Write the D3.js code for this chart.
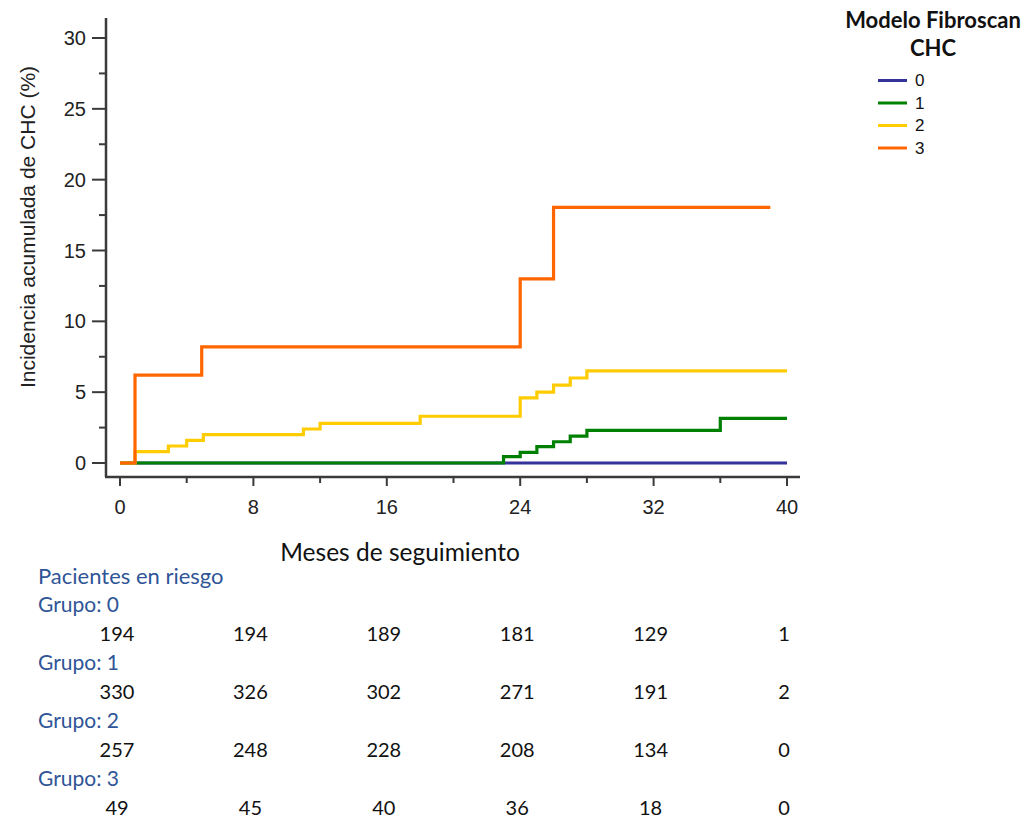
<!DOCTYPE html>
<html><head><meta charset="utf-8">
<script src="https://cdn.jsdelivr.net/npm/d3@7"></script>
<style>body{margin:0;background:#fff}</style>
</head><body>
<svg id="c" width="1031" height="821"></svg>
<script>
const groups = ["0","1","2","3"];
const colors = ["#333399","#008000","#FFCC00","#FF6600"];
const t0 = [0, 40];
const v0 = [0, 0];
const t1 = [0, 23, 24, 25, 26, 27, 28, 36, 40];
const v1 = [0, 0.45, 0.75, 1.15, 1.5, 1.9, 2.3, 3.15, 3.15];
const t2 = [0, 0.9, 2.9, 4, 5, 11, 12, 18, 24, 25, 26, 27, 28, 40];
const v2 = [0, 0.8, 1.2, 1.6, 2.0, 2.4, 2.8, 3.3, 4.6, 5.0, 5.5, 6.0, 6.5, 6.5];
const t3 = [0, 0.9, 4.9, 24, 26, 39];
const v3 = [0, 6.2, 8.2, 13, 18.05, 18.05];
const xTicks = [0, 8, 16, 24, 32, 40];
const yTicks = [0, 5, 10, 15, 20, 25, 30];
const riskTimes = [0, 8, 16, 24, 32, 40];
const risk0 = [194, 194, 189, 181, 129, 1];
const risk1 = [330, 326, 302, 271, 191, 2];
const risk2 = [257, 248, 228, 208, 134, 0];
const risk3 = [49, 45, 40, 36, 18, 0];

const series = [[t0,v0],[t1,v1],[t2,v2],[t3,v3]];
const risks = [risk0, risk1, risk2, risk3];

const svg = d3.select("#c");
const x = d3.scaleLinear().domain([0,40]).range([120,787]);
const y = d3.scaleLinear().domain([0,30]).range([463,38]);
const axisCol = "#3a3a3a";
const arial = "'Liberation Sans', Arial, sans-serif";
const cal = "Lato, 'Open Sans', sans-serif";

// axes lines
svg.append("line").attr("x1",106).attr("x2",106).attr("y1",18).attr("y2",477)
  .attr("stroke",axisCol).attr("stroke-width",2.5);
svg.append("line").attr("x1",105).attr("x2",800).attr("y1",477).attr("y2",477)
  .attr("stroke",axisCol).attr("stroke-width",2.5);

// y ticks
const yMinor = d3.range(2.5, 30, 5);
yTicks.forEach(v=>{
  svg.append("line").attr("x1",92).attr("x2",106).attr("y1",y(v)).attr("y2",y(v))
    .attr("stroke",axisCol).attr("stroke-width",2);
  svg.append("text").attr("x",86).attr("y",y(v)).attr("dy","0.35em")
    .attr("text-anchor","end").attr("font-family",arial).attr("font-size",20)
    .attr("fill","#222").text(v);
});
yMinor.forEach(v=>{
  svg.append("line").attr("x1",99).attr("x2",106).attr("y1",y(v)).attr("y2",y(v))
    .attr("stroke",axisCol).attr("stroke-width",2);
});
// x ticks
const xMinor = d3.range(4, 40, 8);
xTicks.forEach(v=>{
  svg.append("line").attr("x1",x(v)).attr("x2",x(v)).attr("y1",477).attr("y2",486)
    .attr("stroke",axisCol).attr("stroke-width",2);
  svg.append("text").attr("x",x(v)).attr("y",507).attr("dy","0.35em")
    .attr("text-anchor","middle").attr("font-family",arial).attr("font-size",20)
    .attr("fill","#222").text(v);
});
xMinor.forEach(v=>{
  svg.append("line").attr("x1",x(v)).attr("x2",x(v)).attr("y1",477).attr("y2",483)
    .attr("stroke",axisCol).attr("stroke-width",2);
});

// y label
svg.append("text").attr("transform","translate(28,227) rotate(-90)")
  .attr("text-anchor","middle").attr("dy","0.35em").attr("font-family",arial)
  .attr("font-size",21).attr("fill","#222").text("Incidencia acumulada de CHC (%)");

// lines
const line = d3.line().x(d=>x(d[0])).y(d=>y(d[1])).curve(d3.curveStepAfter);
series.forEach((s,i)=>{
  const pts = s[0].map((t,j)=>[t, s[1][j]]);
  svg.append("path").attr("d", line(pts)).attr("fill","none")
    .attr("stroke",colors[i]).attr("stroke-width",3.2);
});

// legend
svg.append("text").attr("x",933).attr("y",28).attr("text-anchor","middle")
  .attr("font-family",cal).attr("font-weight","bold").attr("font-size",22)
  .attr("fill","#111").text("Modelo Fibroscan");
svg.append("text").attr("x",933).attr("y",56).attr("text-anchor","middle")
  .attr("font-family",cal).attr("font-weight","bold").attr("font-size",22)
  .attr("fill","#111").text("CHC");
groups.forEach((g,i)=>{
  const ly = 80.5 + i*22.5;
  svg.append("line").attr("x1",878).attr("x2",907).attr("y1",ly).attr("y2",ly)
    .attr("stroke",colors[i]).attr("stroke-width",3);
  svg.append("text").attr("x",915).attr("y",ly).attr("dy","0.35em")
    .attr("font-family",arial).attr("font-size",17).attr("fill","#111").text(g);
});

// x title
svg.append("text").attr("x",400).attr("y",561).attr("text-anchor","middle")
  .attr("font-family",cal).attr("font-size",24.5).attr("fill","#111").text("Meses de seguimiento");

// risk table
const blue = "#2F5597";
svg.append("text").attr("x",38).attr("y",584).attr("font-family",cal).attr("font-size",22)
  .attr("fill",blue).text("Pacientes en riesgo");
risks.forEach((r,i)=>{
  const gy = 612 + i*58;
  svg.append("text").attr("x",38).attr("y",gy).attr("font-family",cal).attr("font-size",21)
    .attr("fill",blue).text("Grupo: " + groups[i]);
  r.forEach((n,j)=>{
    svg.append("text").attr("x",x(riskTimes[j]) - 3).attr("y",gy+29).attr("text-anchor","middle")
      .attr("font-family",cal).attr("font-size",20).attr("fill","#111").text(n);
  });
});
</script>
</body></html>
